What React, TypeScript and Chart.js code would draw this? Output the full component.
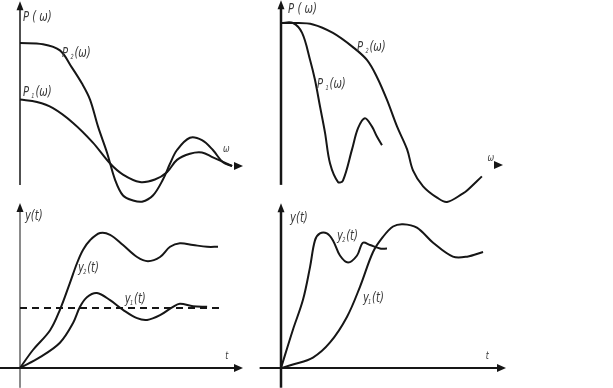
import React, { useEffect, useRef } from "react";
import { Chart, registerables } from "chart.js";
Chart.register(...registerables);

const W = 613;
const H = 388;

// ---- Top-left: P(ω), ω in 0..10 ----
const tlP2X = [0, 1.03, 1.79, 2.33, 2.78, 3.14, 3.5, 3.9, 4.26, 4.62, 5.07, 5.47, 5.96, 6.41, 6.73, 7.04, 7.62, 8.16, 8.65, 9.1, 9.51];
const tlP2Y = [1.0, 0.99, 0.94, 0.8, 0.67, 0.54, 0.32, 0.11, -0.11, -0.24, -0.28, -0.29, -0.24, -0.11, 0.02, 0.13, 0.23, 0.21, 0.13, 0.03, 0.0];
const tlP1X = [0, 0.76, 1.48, 2.38, 3.27, 4.04, 4.62, 5.38, 6.05, 6.59, 7.04, 7.62, 8.16, 8.65, 9.51];
const tlP1Y = [0.54, 0.52, 0.47, 0.35, 0.19, 0.02, -0.07, -0.13, -0.11, -0.05, 0.05, 0.1, 0.11, 0.07, 0.0];

// ---- Top-right: P(ω) ----
const trP2X = [0, 0.54, 1.44, 2.34, 3.24, 3.87, 4.32, 4.77, 5.23, 5.68, 5.95, 6.4, 7.03, 7.48, 8.2, 8.38, 9.05];
const trP2Y = [1.0, 1.0, 0.99, 0.93, 0.83, 0.74, 0.62, 0.46, 0.27, 0.11, -0.04, -0.15, -0.23, -0.26, -0.2, -0.18, -0.08];
const trP1X = [0, 0.54, 0.95, 1.31, 1.53, 1.76, 1.98, 2.21, 2.57, 2.79, 3.2, 3.47, 3.78, 4.1, 4.32, 4.55];
const trP1Y = [1.0, 1.0, 0.93, 0.74, 0.6, 0.41, 0.23, 0.01, -0.12, -0.11, 0.11, 0.26, 0.33, 0.27, 0.2, 0.14];

// ---- Bottom-left: y(t) ----
const blY2X = [0, 0.58, 1.35, 1.79, 2.24, 2.56, 2.83, 3.14, 3.59, 4.04, 4.62, 5.25, 5.74, 6.28, 6.73, 7.17, 7.76, 8.39, 8.88];
const blY2Y = [0, 0.3, 0.63, 0.97, 1.42, 1.75, 1.97, 2.13, 2.25, 2.22, 2.05, 1.85, 1.78, 1.85, 2.02, 2.08, 2.05, 2.02, 2.02];
const blY1X = [0, 0.9, 1.79, 2.38, 2.69, 3.0, 3.45, 4.04, 4.62, 5.25, 5.7, 6.28, 6.86, 7.17, 7.76, 8.39];
const blY1Y = [0, 0.18, 0.42, 0.75, 1.02, 1.18, 1.25, 1.13, 0.97, 0.83, 0.8, 0.88, 1.02, 1.07, 1.03, 1.02];
const blRefX = [0, 9.06];
const blRefY = [1, 1];

// ---- Bottom-right: y(t) ----
const brY2X = [0, 0.53, 0.98, 1.29, 1.51, 1.73, 2.04, 2.31, 2.62, 2.98, 3.38, 3.64, 3.96, 4.4, 4.71];
const brY2Y = [0, 0.33, 0.59, 0.87, 1.1, 1.16, 1.16, 1.1, 0.97, 0.91, 0.97, 1.08, 1.06, 1.03, 1.03];
const brY1X = [0, 0.53, 1.42, 2.18, 2.93, 3.51, 4.09, 4.53, 4.98, 5.42, 6.04, 6.76, 7.64, 8.27, 8.98];
const brY1Y = [0, 0.03, 0.09, 0.22, 0.44, 0.7, 1.0, 1.13, 1.22, 1.24, 1.21, 1.08, 0.96, 0.96, 1.0];

// panel geometry: origin in px and px per unit
const panels: Record<string, any> = {
  tl: { ox: 20, oy: 166, sx: 22.3, sy: 123, yFrom: -0.155, yTo: 1.34, xFrom: null, xTo: 10, yW: 1.5, xW: 2 },
  tr: { ox: 281, oy: 165, sx: 22.2, sy: 142, yFrom: -0.14, yTo: 1.16, xFrom: null, xTo: 10, yW: 2.5, xW: 2 },
  bl: { ox: 20, oy: 368, sx: 22.3, sy: 60, yFrom: -0.33, yTo: 2.75, xFrom: -0.92, xTo: 10, yW: 1, xW: 2.2 },
  br: { ox: 281, oy: 368, sx: 22.5, sy: 116, yFrom: -0.17, yTo: 1.42, xFrom: -0.95, xTo: 10, yW: 2.5, xW: 2.2 },
};

const labels = [
  { p: "tl", x: 0.13, y: 1.18, main: "P ( ω)", sub: "", rest: "" },
  { p: "tl", x: 1.88, y: 0.89, main: "P ", sub: "2", rest: "(ω)" },
  { p: "tl", x: 0.13, y: 0.57, main: "P ", sub: "1", rest: "(ω)" },
  { p: "tl", x: 9.1, y: 0.11, main: "ω", sub: "", rest: "" },
  { p: "tr", x: 0.32, y: 1.07, main: "P ( ω)", sub: "", rest: "" },
  { p: "tr", x: 3.42, y: 0.8, main: "P ", sub: "2", rest: "(ω)" },
  { p: "tr", x: 1.62, y: 0.54, main: "P ", sub: "1", rest: "(ω)" },
  { p: "tr", x: 9.3, y: 0.03, main: "ω", sub: "", rest: "" },
  { p: "bl", x: 0.22, y: 2.47, main: "y(t)", sub: "", rest: "" },
  { p: "bl", x: 2.6, y: 1.6, main: "y", sub: "2", rest: "(t)" },
  { p: "bl", x: 4.7, y: 1.08, main: "y", sub: "1", rest: "(t)" },
  { p: "bl", x: 9.2, y: 0.15, main: "t", sub: "", rest: "" },
  { p: "br", x: 0.4, y: 1.26, main: "y(t)", sub: "", rest: "" },
  { p: "br", x: 2.49, y: 1.1, main: "y", sub: "2", rest: "(t)" },
  { p: "br", x: 3.64, y: 0.57, main: "y", sub: "1", rest: "(t)" },
  { p: "br", x: 9.1, y: 0.08, main: "t", sub: "", rest: "" },
];

const zip = (xs: number[], ys: number[]) => xs.map((x, i) => ({ x, y: ys[i] }));

const FONT = "'Liberation Sans Narrow', 'DejaVu Sans Condensed', 'Liberation Sans', sans-serif";
const INK = "#161616";
const SQUEEZE = 0.8;

const axesPlugin = {
  id: "panelAxes",
  afterDatasetsDraw(chart: any) {
    const ctx = chart.ctx;
    ctx.save();
    for (const id of Object.keys(panels)) {
      const g = panels[id];
      const xs = chart.scales["x_" + id];
      const ys = chart.scales["y_" + id];
      const x0 = xs.getPixelForValue(0);
      const y0 = ys.getPixelForValue(0);
      const yTop = ys.getPixelForValue(g.yTo);
      const yBot = ys.getPixelForValue(g.yFrom);
      const xTip = xs.getPixelForValue(g.xTo);
      ctx.strokeStyle = INK;
      ctx.fillStyle = INK;
      ctx.lineWidth = g.yW;
      ctx.beginPath();
      ctx.moveTo(x0, yBot);
      ctx.lineTo(x0, yTop + 6);
      ctx.stroke();
      ctx.beginPath();
      ctx.moveTo(x0, yTop);
      ctx.lineTo(x0 - 3.5, yTop + 9);
      ctx.lineTo(x0 + 3.5, yTop + 9);
      ctx.closePath();
      ctx.fill();
      if (g.xFrom !== null) {
        ctx.lineWidth = g.xW;
        ctx.beginPath();
        ctx.moveTo(xs.getPixelForValue(g.xFrom), y0);
        ctx.lineTo(xTip - 6, y0);
        ctx.stroke();
      }
      ctx.beginPath();
      ctx.moveTo(xTip, y0);
      ctx.lineTo(xTip - 9, y0 - 4);
      ctx.lineTo(xTip - 9, y0 + 4);
      ctx.closePath();
      ctx.fill();
    }
    ctx.fillStyle = "#3a3a3a";
    ctx.textBaseline = "alphabetic";
    ctx.textAlign = "left";
    for (const l of labels) {
      const px = chart.scales["x_" + l.p].getPixelForValue(l.x);
      const py = chart.scales["y_" + l.p].getPixelForValue(l.y);
      const small = l.main === "ω" || l.main === "t";
      ctx.save();
      ctx.translate(px, py);
      ctx.scale(SQUEEZE, 1);
      ctx.font = (small ? "italic 11px " : "italic 14px ") + FONT;
      ctx.fillText(l.main, 0, 0);
      let cx = ctx.measureText(l.main).width;
      if (l.sub) {
        ctx.font = "italic 7px " + FONT;
        ctx.fillText(l.sub, cx - 1, 2);
        cx += ctx.measureText(l.sub).width;
        ctx.font = "italic 14px " + FONT;
        ctx.fillText(l.rest, cx, 0);
      }
      ctx.restore();
    }
    ctx.restore();
  },
};

function buildScales() {
  const scales: Record<string, any> = {};
  for (const id of Object.keys(panels)) {
    const g = panels[id];
    scales["x_" + id] = { type: "linear", display: false, min: -g.ox / g.sx, max: (W - g.ox) / g.sx };
    scales["y_" + id] = { type: "linear", display: false, min: -(H - g.oy) / g.sy, max: g.oy / g.sy };
  }
  return scales;
}

function line(p: string, xs: number[], ys: number[], dashed = false) {
  return {
    data: zip(xs, ys),
    xAxisID: "x_" + p,
    yAxisID: "y_" + p,
    showLine: true,
    borderColor: INK,
    borderWidth: 2,
    borderDash: dashed ? [7, 5] : [],
    pointRadius: 0,
    cubicInterpolationMode: "default",
    tension: dashed ? 0 : 0.35,
    fill: false,
    clip: false,
  };
}

export default function App() {
  const ref = useRef<HTMLCanvasElement>(null);
  useEffect(() => {
    if (!ref.current) return;
    const chart = new Chart(ref.current, {
      type: "scatter",
      data: {
        datasets: [
          line("tl", tlP2X, tlP2Y),
          line("tl", tlP1X, tlP1Y),
          line("tr", trP2X, trP2Y),
          line("tr", trP1X, trP1Y),
          line("bl", blY2X, blY2Y),
          line("bl", blY1X, blY1Y),
          line("bl", blRefX, blRefY, true),
          line("br", brY2X, brY2Y),
          line("br", brY1X, brY1Y),
        ] as any,
      },
      options: {
        animation: false,
        responsive: false,
        devicePixelRatio: 1,
        layout: { padding: 0 },
        plugins: { legend: { display: false }, tooltip: { enabled: false }, title: { display: false } },
        scales: buildScales(),
        events: [],
      } as any,
      plugins: [axesPlugin],
    });
    return () => chart.destroy();
  }, []);
  return (
    <div style={{ position: "absolute", left: 0, top: 0, width: W, height: H, background: "#fff" }}>
      <canvas ref={ref} width={W} height={H} style={{ display: "block", width: W, height: H }} />
    </div>
  );
}
